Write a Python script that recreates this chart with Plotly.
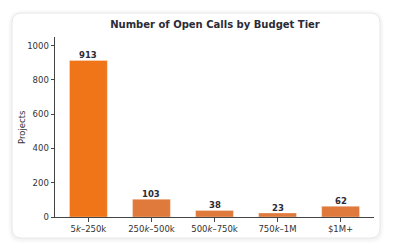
import plotly.graph_objects as go

categories = ["5k–250k", "250k–500k", "500k–750k", "750k–1M", "$1M+"]
tick_labels = ["5<i>k</i>–250k", "250<i>k</i>–500k", "500<i>k</i>–750k", "750<i>k</i>–1M", "$1M+"]
values = [913, 103, 38, 23, 62]
colors = ["#F07519", "#E07A3C", "#E07A3C", "#E07A3C", "#E07A3C"]

W, H = 394, 252
L, R, T, B = 55, 20, 37, 35
pw, ph = W - L - R, H - T - B

def px(x):
    return (x - L) / pw

def py(y):
    return (H - B - y) / ph

def rounded(x0, y0, x1, y1, r):
    rx, ry = r / pw, r / ph
    X0, X1 = px(x0), px(x1)
    Yt, Yb = py(y0), py(y1)
    return (f"M {X0+rx},{Yt} L {X1-rx},{Yt} Q {X1},{Yt} {X1},{Yt-ry} "
            f"L {X1},{Yb+ry} Q {X1},{Yb} {X1-rx},{Yb} L {X0+rx},{Yb} "
            f"Q {X0},{Yb} {X0},{Yb+ry} L {X0},{Yt-ry} Q {X0},{Yt} {X0+rx},{Yt} Z")

shapes = []
for i, a in enumerate([0.012, 0.012, 0.012, 0.012]):
    g = 4 - i
    shapes.append(dict(type="path", xref="paper", yref="paper", layer="below",
                       path=rounded(12 - g, 13 - g + 1, 380 + g, 238 + g + 1, 10 + g),
                       fillcolor=f"rgba(0,0,0,{a})", line=dict(width=0)))
shapes.append(dict(type="path", xref="paper", yref="paper", layer="below",
                   path=rounded(12, 13, 380, 238, 10),
                   fillcolor="white", line=dict(color="#E8E8E8", width=1)))

xs = list(range(len(categories)))
fig = go.Figure(go.Bar(
    x=xs, y=values, width=0.6,
    marker=dict(color=colors, line=dict(color="rgba(255,255,255,0.35)", width=0.8)),
    hoverinfo="skip",
))

for x, v in zip(xs, values):
    fig.add_annotation(x=x, y=v, text=f"<b>{v}</b>", showarrow=False, xanchor="center",
                       yanchor="bottom", yshift=-1.5,
                       font=dict(family="DejaVu Sans", size=8.5, color="#2B2B36"))

fig.add_annotation(text="Projects", xref="paper", yref="paper", x=px(22), y=0.5,
                   textangle=-90, showarrow=False, xanchor="center", yanchor="middle",
                   font=dict(family="DejaVu Sans", size=8.5, color="#333333"))

fig.update_layout(
    width=W, height=H, margin=dict(l=L, r=R, t=T, b=B, autoexpand=False),
    paper_bgcolor="white", plot_bgcolor="rgba(0,0,0,0)",
    shapes=shapes, showlegend=False,
    font=dict(family="DejaVu Sans", color="#333333"),
    title=dict(text="<b>Number of Open Calls by Budget Tier</b>", x=px(215), xanchor="center",
               y=1 - 24 / H, yanchor="middle", xref="paper",
               font=dict(size=10, color="#2B2B36", family="DejaVu Sans")),
)
fig.update_xaxes(
    range=[-0.53, 4.53], tickmode="array", tickvals=xs,
    ticktext=tick_labels, showline=True, linecolor="#444444", linewidth=1,
    ticks="outside", ticklen=3.5, tickcolor="#444444", showgrid=False, zeroline=False,
    tickfont=dict(size=8.5, color="#333333"), automargin=False,
)
fig.update_yaxes(
    range=[0, 1050], tickvals=[0, 200, 400, 600, 800, 1000], showline=True,
    linecolor="#444444", linewidth=1, ticks="outside", ticklen=3.5, tickcolor="#444444",
    showgrid=False, zeroline=False, tickfont=dict(size=8.5, color="#333333"),
    automargin=False,
)

fig.write_html("out.html")
